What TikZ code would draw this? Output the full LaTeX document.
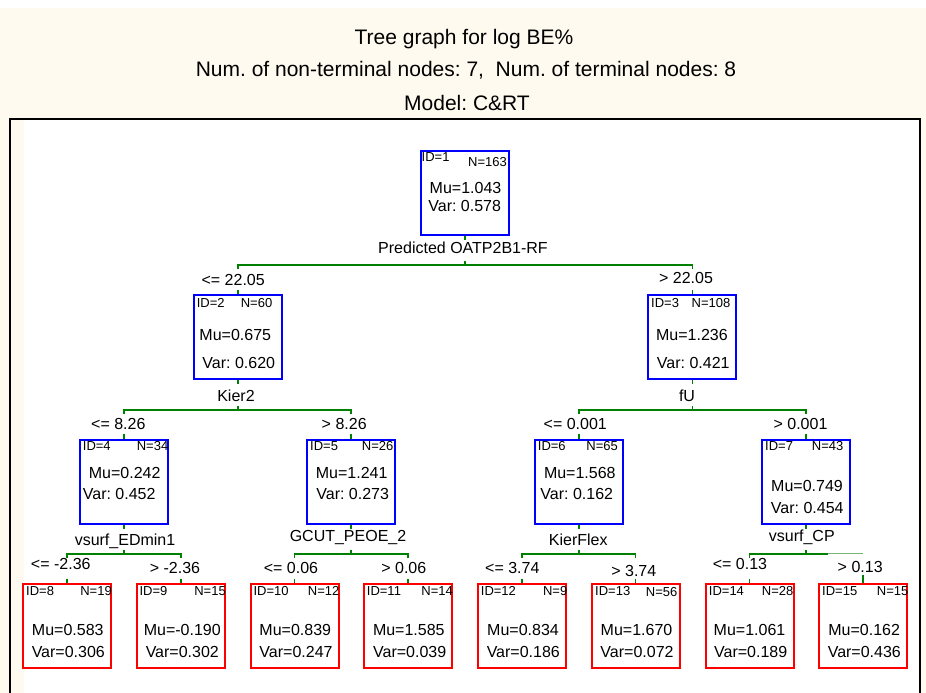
\documentclass[tikz,border=0pt]{standalone}
\usepackage{fontspec}
\setmainfont{Liberation Sans}
\usetikzlibrary{calc}
\frenchspacing
\definecolor{cream}{RGB}{255,250,240}
\definecolor{tgreen}{RGB}{0,128,0}
\definecolor{tthin}{RGB}{120,180,120}
\definecolor{tblue}{RGB}{0,0,255}
\definecolor{tred}{RGB}{255,0,0}
\tikzset{
  inode/.style={draw=tblue, line width=2pt, minimum width=88pt, minimum height=84pt, inner sep=0pt},
  leaf/.style={inode, draw=tred},
  gl/.style={draw=tgreen, line width=1.8pt},
  txt/.style={anchor=base, inner sep=0pt, font=\fontsize{16}{18}\selectfont\frenchspacing},
  ttl/.style={anchor=base, inner sep=0pt, font=\fontsize{21}{24}\selectfont\frenchspacing},
  idt/.style={anchor=base west, inner sep=0pt, font=\fontsize{13}{15}\selectfont},
  nnt/.style={anchor=base east, inner sep=0pt, font=\fontsize{13}{15}\selectfont}
}
\begin{document}
\begin{tikzpicture}[x=1pt,y=-1pt]
\useasboundingbox (0,0) rectangle (926,693);
% background and frame
\fill[cream] (0,0) rectangle (926,693);
\fill[white] (0,0) rectangle (926,8);
\fill[white] (24,120) rectangle (919,693);
\draw[black, line width=2.5pt] (10,693) -- (10,119) -- (920,119) -- (920,693);
% titles
\node[ttl] (t1) at (464,45) {Tree graph for log BE\%};
\node[ttl] (t2) at (466,76.7) {Num. of non-terminal nodes: 7,~~Num. of terminal nodes: 8};
\node[ttl] (t3) at (467,110) {Model: C\&RT};
% boxes
\node[inode] (n1) at (465,193.3) {};
\node[inode] (n2) at (238,337.3) {};
\node[inode] (n3) at (692.4,337.3) {};
\node[inode] (n4) at (124.2,481.8) {};
\node[inode] (n5) at (351.3,481.8) {};
\node[inode] (n6) at (579,481.8) {};
\node[inode] (n7) at (806,481.8) {};
\node[leaf] (n8) at (67.2,626.2) {};
\node[leaf] (n9) at (181,626.2) {};
\node[leaf] (n10) at (294.5,626.2) {};
\node[leaf] (n11) at (408.3,626.2) {};
\node[leaf] (n12) at (521.7,626.2) {};
\node[leaf] (n13) at (635.5,626.2) {};
\node[leaf] (n14) at (749.5,626.2) {};
\node[leaf] (n15) at (863.2,626.2) {};
% box texts
\node[idt] (n1id) at (421.5,161.7) {ID=1};
\node[nnt] (n1n) at (507,166) {N=163};
\node[txt] (n1mu) at (465.5,193.3) {Mu=1.043};
\node[txt] (n1var) at (464.7,211.7) {Var: 0.578};
\node[idt] (n2id) at (196.6,307.3) {ID=2};
\node[nnt] (n2n) at (272.5,307.3) {N=60};
\node[txt] (n2mu) at (235.3,340) {Mu=0.675};
\node[txt] (n2var) at (238.8,368.3) {Var: 0.620};
\node[idt] (n3id) at (651,307.3) {ID=3};
\node[nnt] (n3n) at (730.5,307.3) {N=108};
\node[txt] (n3mu) at (691.9,340) {Mu=1.236};
\node[txt] (n3var) at (693.3,368.3) {Var: 0.421};
\node[idt] (n4id) at (82.7,450.7) {ID=4};
\node[nnt] (n4n) at (168.5,450.7) {N=34};
\node[txt] (n4mu) at (124.7,478.3) {Mu=0.242};
\node[txt] (n4var) at (119.2,499.3) {Var: 0.452};
\node[idt] (n5id) at (310,450.7) {ID=5};
\node[nnt] (n5n) at (393.5,450.7) {N=26};
\node[txt] (n5mu) at (351.7,478.3) {Mu=1.241};
\node[txt] (n5var) at (352.7,499.3) {Var: 0.273};
\node[idt] (n6id) at (537.7,450.7) {ID=6};
\node[nnt] (n6n) at (618,450.7) {N=65};
\node[txt] (n6mu) at (579.8,478.3) {Mu=1.568};
\node[txt] (n6var) at (576.8,499.3) {Var: 0.162};
\node[idt] (n7id) at (765,450.7) {ID=7};
\node[nnt] (n7n) at (843.5,450.7) {N=43};
\node[txt] (n7mu) at (807,491.7) {Mu=0.749};
\node[txt] (n7var) at (807.3,513.3) {Var: 0.454};
% leaf texts
\node[idt] (n8id) at (26,595.5) {ID=8};
\node[nnt] (n8n) at (112,595.5) {N=19};
\node[txt] (n8mu) at (67.8,635.3) {Mu=0.583};
\node[txt] (n8var) at (68.3,657.3) {Var=0.306};
\node[idt] (n9id) at (139.3,595.5) {ID=9};
\node[nnt] (n9n) at (226,595.5) {N=15};
\node[txt] (n9mu) at (182.3,635.3) {Mu=-0.190};
\node[txt] (n9var) at (182.3,657.3) {Var=0.302};
\node[idt] (n10id) at (253.3,595.5) {ID=10};
\node[nnt] (n10n) at (339.5,595.5) {N=12};
\node[txt] (n10mu) at (295.3,635.3) {Mu=0.839};
\node[txt] (n10var) at (296,657.3) {Var=0.247};
\node[idt] (n11id) at (366.7,595.5) {ID=11};
\node[nnt] (n11n) at (453,595.5) {N=14};
\node[txt] (n11mu) at (408.8,635.3) {Mu=1.585};
\node[txt] (n11var) at (409.7,657.3) {Var=0.039};
\node[idt] (n12id) at (480.7,595.5) {ID=12};
\node[nnt] (n12n) at (567.5,595.5) {N=9};
\node[txt] (n12mu) at (523,635.3) {Mu=0.834};
\node[txt] (n12var) at (523.3,657.3) {Var=0.186};
\node[idt] (n13id) at (595,595.5) {ID=13};
\node[nnt] (n13n) at (677.5,596.5) {N=56};
\node[txt] (n13mu) at (636.5,635.3) {Mu=1.670};
\node[txt] (n13var) at (637,657.3) {Var=0.072};
\node[idt] (n14id) at (708.7,595.5) {ID=14};
\node[nnt] (n14n) at (793.5,595.5) {N=28};
\node[txt] (n14mu) at (749.5,635.3) {Mu=1.061};
\node[txt] (n14var) at (750.7,657.3) {Var=0.189};
\node[idt] (n15id) at (822,595.5) {ID=15};
\node[nnt] (n15n) at (908.5,595.5) {N=15};
\node[txt] (n15mu) at (864.2,635.3) {Mu=0.162};
\node[txt] (n15var) at (864.3,657.3) {Var=0.436};
% split variable labels
\node[txt] (s1) at (463,253.5) {Predicted OATP2B1-RF};
\node[txt] (s2) at (236,401.7) {Kier2};
\node[txt] (s3) at (687,401.7) {fU};
\node[txt] (s4) at (125,545) {vsurf\_EDmin1};
\node[txt] (s5) at (348,541) {GCUT\_PEOE\_2};
\node[txt] (s6) at (578.3,545) {KierFlex};
\node[txt] (s7) at (801.8,541) {vsurf\_CP};
% branch labels
\node[txt] (l2) at (233.2,285.5) {<= 22.05};
\node[txt] (l3) at (686,283) {> 22.05};
\node[txt] (l4) at (118.3,429.3) {<= 8.26};
\node[txt] (l5) at (344.2,429.3) {> 8.26};
\node[txt] (l6) at (575.3,429.3) {<= 0.001};
\node[txt] (l7) at (800.5,429.3) {> 0.001};
\node[txt] (l8) at (60.8,569.3) {<= -2.36};
\node[txt] (l9) at (175,573.3) {> -2.36};
\node[txt] (l10) at (291,573.3) {<= 0.06};
\node[txt] (l11) at (403.8,573.3) {> 0.06};
\node[txt] (l12) at (512.3,573.3) {<= 3.74};
\node[txt] (l13) at (633.8,576.7) {> 3.74};
\node[txt] (l14) at (740,569.3) {<= 0.13};
\node[txt] (l15) at (860.2,572.7) {> 0.13};
% split bars
\coordinate (b1) at (465,265);
\coordinate (b2) at (238,410);
\coordinate (b3) at (692.4,410);
\coordinate (b4) at (124.2,554);
\coordinate (b5) at (351.3,554);
\coordinate (b6) at (579,554);
\coordinate (b7) at (806,554);
% level 1
\draw[gl] (n1.south) -- ++(0,4);
\draw[gl] (b1) -- ++(0,-4);
\draw[gl] (n2.north |- b1) ++(0,4) -- ++(0,-4) -- (n3.north |- b1) -- ++(0,4);
\draw[gl] (n2.north) -- ++(0,-4);
\draw[gl] (n3.north) -- ++(0,-4);
% level 2
\draw[gl] (n2.south) -- ++(0,4);
\draw[gl] (b2) -- ++(0,-4);
\draw[gl] (n4.north |- b2) ++(0,4) -- ++(0,-4) -- (n5.north |- b2) -- ++(0,4);
\draw[gl] (n4.north) -- ++(0,-5);
\draw[gl] (n5.north) -- ++(0,-5);
\draw[gl] (n3.south) -- ++(0,4);
\draw[gl] (b3) -- ++(0,-4);
\draw[gl] (n6.north |- b3) ++(0,4) -- ++(0,-4) -- (n7.north |- b3) -- ++(0,4);
\draw[gl] (n6.north) -- ++(0,-5);
\draw[gl] (n7.north) -- ++(0,-5);
% level 3
\draw[gl] (n4.south) -- ++(0,4);
\draw[gl] (b4) -- ++(0,-4);
\draw[gl] (n8.north |- b4) ++(0,4) -- ++(0,-4) -- (n9.north |- b4) -- ++(0,4);
\draw[gl] (n8.north) -- ++(0,-4);
\draw[gl] (n9.north) -- ++(0,-4);
\draw[gl] (n5.south) -- ++(0,4);
\draw[gl] (b5) -- ++(0,-4);
\draw[gl] (n10.north |- b5) ++(0,4) -- ++(0,-4) -- (n11.north |- b5) -- ++(0,4);
\draw[gl] (n10.north) -- ++(0,-4);
\draw[gl] (n11.north) -- ++(0,-4);
\draw[gl] (n6.south) -- ++(0,4);
\draw[gl] (b6) -- ++(0,-4);
\draw[gl] (n12.north |- b6) ++(0,4) -- ++(0,-4) -- (n13.north |- b6) -- ++(0,4);
\draw[gl] (n12.north) -- ++(0,-4);
\draw[gl] (n13.north) -- ++(0,-4);
\draw[gl] (n7.south) -- ++(0,4);
\draw[gl] (b7) -- ++(0,-4);
\coordinate (b7m) at (828,554);
\draw[gl] (n14.north |- b7) ++(0,4) -- ++(0,-4) -- (b7m);
\draw[draw=tthin, line width=0.8pt] ($(b7m)+(0,-1)$) -- ($(n15.north |- b7)+(0,-1)$);
\draw[gl] (n14.north) -- ++(0,-4);
\draw[gl] (n15.north) -- ++(0,-8);
\end{tikzpicture}
\end{document}
